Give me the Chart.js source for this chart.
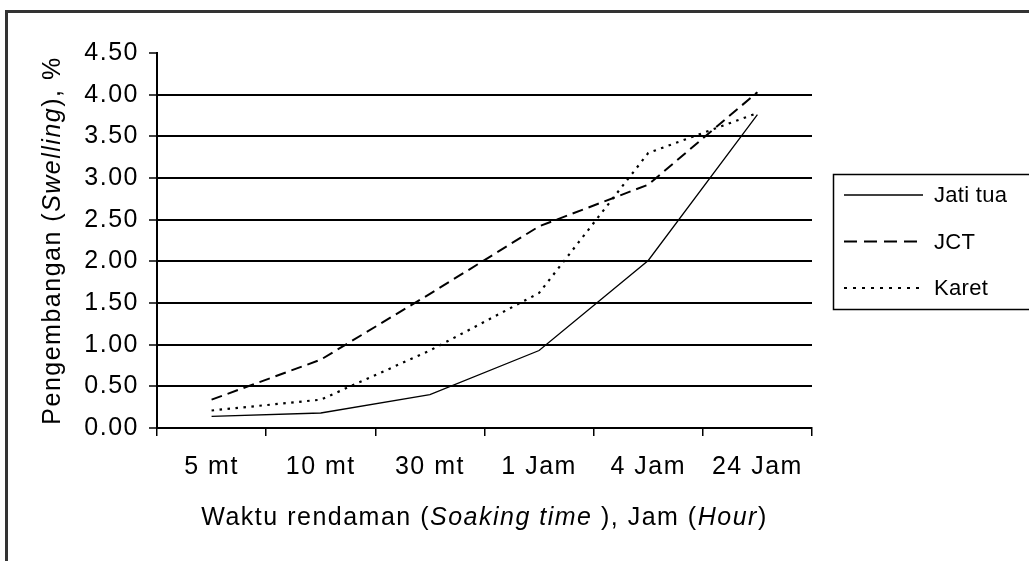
<!DOCTYPE html>
<html>
<head>
<meta charset="utf-8">
<script src="https://cdn.jsdelivr.net/npm/chart.js@4.4.1/dist/chart.umd.min.js"></script>
<style>
  html, body { margin: 0; padding: 0; background: #fff; }
  #wrap { width: 1029px; height: 561px; position: relative; }
</style>
</head>
<body>
<div id="wrap"><canvas id="myChart"></canvas></div>
<script>
  'use strict'

  // data
  var categories = ['5 mt', '10 mt', '30 mt', '1 Jam', '4 Jam', '24 Jam']
  var jatiTua = [0.14, 0.18, 0.40, 0.93, 2.01, 3.76]
  var jct = [0.34, 0.82, 1.61, 2.42, 2.92, 4.03]
  var karet = [0.21, 0.34, 0.93, 1.62, 3.30, 3.78]
  var seriesNames = ['Jati tua', 'JCT', 'Karet']
  var yMax = 4.5
  var yStep = 0.5

  // axis titles, [text, italic]
  var yTitleParts = [['Pengembangan (', false], ['Swelling', true], ['), %', false]]
  var xTitleParts = [['Waktu rendaman (', false], ['Soaking time ', true], ['), Jam (', false], ['Hour', true], [')', false]]

  var FONT = '"Liberation Sans", Arial, sans-serif'

  function drawParts (ctx, parts, size, cx, cy) {
    var total = 0
    parts.forEach(function (p) {
      ctx.font = (p[1] ? 'italic ' : '') + size + 'px ' + FONT
      total += ctx.measureText(p[0]).width
    })
    var x = cx - total / 2
    parts.forEach(function (p) {
      ctx.font = (p[1] ? 'italic ' : '') + size + 'px ' + FONT
      ctx.fillText(p[0], x, cy)
      x += ctx.measureText(p[0]).width
    })
  }

  var spacing = {
    id: 'spacing',
    beforeUpdate: function (chart) { chart.ctx.letterSpacing = '1.5px' },
    beforeDraw: function (chart) { chart.ctx.letterSpacing = '1.5px' }
  }

  var extras = {
    id: 'extras',
    afterDraw: function (chart) {
      var ctx = chart.ctx
      var area = chart.chartArea
      ctx.save()

      // outer frame
      ctx.strokeStyle = '#333'
      ctx.lineWidth = 3
      ctx.strokeRect(6.5, 11.5, 1100, 700)

      // axis titles
      ctx.fillStyle = '#000'
      ctx.textBaseline = 'middle'
      ctx.textAlign = 'left'
      ctx.letterSpacing = '1.5px'
      drawParts(ctx, xTitleParts, 25, (area.left + area.right) / 2, 518)
      ctx.save()
      ctx.translate(53, (area.top + area.bottom) / 2)
      ctx.rotate(-Math.PI / 2)
      drawParts(ctx, yTitleParts, 25, 0, 0)
      ctx.restore()

      // legend
      var box = { left: 833, top: 174, right: 1040, bottom: 309 }
      ctx.lineWidth = 1.5
      ctx.strokeStyle = '#000'
      ctx.strokeRect(box.left + 0.5, box.top + 0.5, box.right - box.left, box.bottom - box.top)
      ctx.letterSpacing = '0.3px'
      ctx.font = '22px ' + FONT
      chart.data.datasets.forEach(function (ds, i) {
        var y = box.top + 21 + i * 46.5
        ctx.beginPath()
        ctx.setLineDash(ds.legendDash || [])
        ctx.lineWidth = ds.borderWidth
        ctx.moveTo(844, y)
        ctx.lineTo(923, y)
        ctx.stroke()
        ctx.setLineDash([])
        ctx.fillText(ds.label, 934, y + 1)
      })
      ctx.restore()
    }
  }

  var ctx = document.getElementById('myChart').getContext('2d')
  // eslint-disable-next-line no-unused-vars
  var myChart = new Chart(ctx, {
    type: 'line',
    data: {
      labels: categories,
      datasets: [{
        label: seriesNames[0],
        data: jatiTua,
        borderColor: '#000',
        borderWidth: 1.3,
        legendDash: []
      }, {
        label: seriesNames[1],
        data: jct,
        borderColor: '#000',
        borderWidth: 2,
        borderDash: [11, 6],
        legendDash: [13, 7]
      }, {
        label: seriesNames[2],
        data: karet,
        borderColor: '#000',
        borderWidth: 2.2,
        borderDash: [2.5, 5.5],
        legendDash: [3, 6]
      }]
    },
    options: {
      responsive: true,
      maintainAspectRatio: false,
      animation: false,
      layout: { padding: { top: 53, right: 217, bottom: 0, left: 0 } },
      elements: {
        point: { radius: 0 },
        line: { tension: 0, fill: false }
      },
      plugins: {
        legend: { display: false },
        tooltip: { enabled: false }
      },
      scales: {
        x: {
          offset: true,
          grid: { offset: true, drawOnChartArea: false, tickLength: 8, color: '#000', lineWidth: 1.5 },
          border: { color: '#000', width: 2 },
          ticks: { color: '#000', font: { family: FONT, size: 25 }, padding: 16, maxRotation: 0, autoSkip: false },
          afterFit: function (s) { s.height = 133 }
        },
        y: {
          min: 0,
          max: yMax,
          grid: {
            color: function (c) { return c.tick && c.tick.value === yMax ? 'rgba(0,0,0,0)' : '#000' },
            tickColor: '#000',
            lineWidth: 2,
            tickWidth: 1.5,
            tickLength: 8
          },
          border: { color: '#000', width: 2 },
          ticks: {
            stepSize: yStep,
            color: '#000',
            padding: 10,
            font: { family: FONT, size: 25 },
            callback: function (v) { return v.toFixed(2) }
          },
          afterFit: function (s) { s.width = 157 }
        }
      }
    },
    plugins: [spacing, extras]
  })
</script>
</body>
</html>
